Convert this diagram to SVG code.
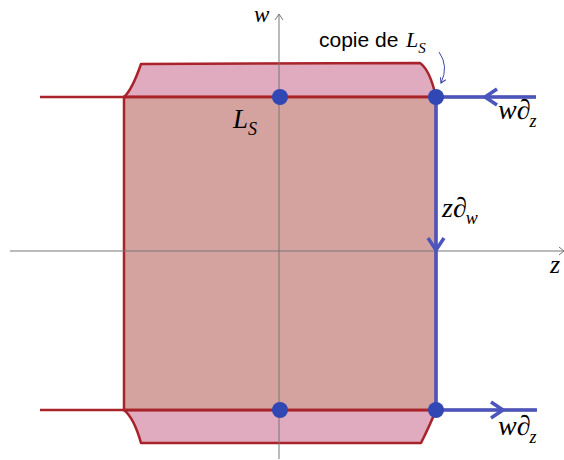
<svg xmlns="http://www.w3.org/2000/svg" width="564" height="460" viewBox="0 0 564 460">
<style>
.axis{stroke:#777;stroke-width:1;fill:none}
.red{stroke:#a8232a;stroke-width:2.5;fill:none;stroke-linejoin:round}
.cap{stroke:#a8232a;stroke-width:2.5;fill:#e0abbf;stroke-linejoin:round}
.box{stroke:#a8232a;stroke-width:2.5;fill:#d5a39f}
.blue{stroke:#4a55bd;stroke-width:3.5;fill:none}
.dot{fill:#3047b4}
.m{font-family:"Liberation Serif","DejaVu Serif",serif;font-style:italic;fill:#000}
.s{font-family:"Liberation Sans",Arial,sans-serif;fill:#000}
</style>
<defs>
<marker id="small" markerWidth="8" markerHeight="8" refX="6" refY="4" orient="auto" markerUnits="userSpaceOnUse">
<path d="M1,1 L6,4 L1,7" fill="none" stroke="#3a45a8" stroke-width="1"/>
</marker>
</defs>
<g id="regions">
<path id="top-cap" class="cap" d="M124,97 Q132,90 141,64 L420,63 Q430,70 436,97 Z"/>
<path id="bottom-cap" class="cap" d="M124,410 Q134,418 141,443 L421,443 Q430,425 436,410 Z"/>
<rect id="box" class="box" x="124" y="97" width="312" height="313"/>
</g>
<g id="axes">
<line class="axis" x1="10" y1="251" x2="564" y2="251"/>
<path class="axis" d="M559,247 L564,251 L559,255"/>
<line class="axis" x1="279" y1="14" x2="279" y2="459"/>
<path class="axis" d="M275,20 L279,14 L283,20"/>
</g>
<g id="connectors">
<line class="red" x1="40" y1="97" x2="536" y2="97"/>
<line class="red" x1="40" y1="410" x2="536" y2="410"/>
<line class="blue" x1="436" y1="97" x2="536" y2="97"/>
<path class="blue" d="M497,89 L485,97 L497,105" stroke-width="3"/>
<line class="blue" x1="436" y1="97" x2="436" y2="410"/>
<path class="blue" d="M428,238 L436,250 L444,238" stroke-width="3"/>
<line class="blue" x1="436" y1="410" x2="537" y2="410"/>
<path class="blue" d="M491,402 L503,410 L491,418" stroke-width="3"/>
<path d="M439,52 Q449,66 441,83" fill="none" stroke="#3a45a8" stroke-width="1" marker-end="url(#small)"/>
</g>
<g id="points">
<circle class="dot" cx="280" cy="97" r="8"/>
<circle class="dot" cx="436" cy="97" r="8"/>
<circle class="dot" cx="280" cy="410" r="8"/>
<circle class="dot" cx="436" cy="410" r="8"/>
</g>
<g id="labels">
<text class="m" x="254" y="22" font-size="23">w</text>
<text class="m" x="550" y="273" font-size="26">z</text>
<text class="m" x="233" y="128" font-size="27">L<tspan font-size="18" dx="0" dy="7">S</tspan></text>
<text class="s" x="319" y="47" font-size="21">copie de</text>
<text class="m" x="406" y="47" font-size="22">L<tspan font-size="15" dx="0" dy="6">S</tspan></text>
<text class="m" x="498" y="119" font-size="28">w∂<tspan font-size="18" dx="-1" dy="8">z</tspan></text>
<text class="m" x="442" y="217" font-size="28">z∂<tspan font-size="18" dx="-1" dy="7">w</tspan></text>
<text class="m" x="498" y="435" font-size="28">w∂<tspan font-size="18" dx="-1" dy="8">z</tspan></text>
</g>
</svg>
